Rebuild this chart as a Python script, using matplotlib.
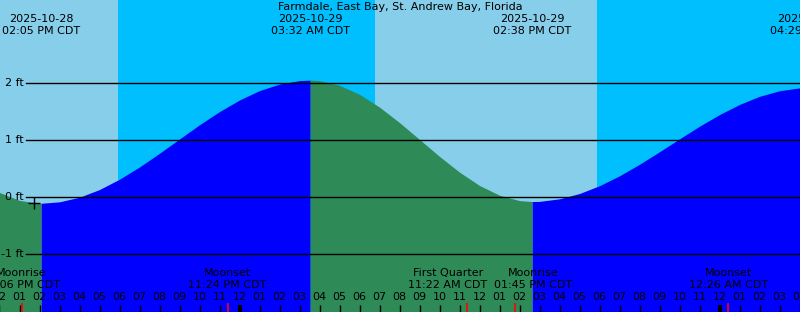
import matplotlib
matplotlib.use('Agg')
import matplotlib.pyplot as plt
import matplotlib.transforms as mtransforms
from datetime import datetime

title = 'Farmdale, East Bay, St. Andrew Bay, Florida'
start = datetime(2025, 10, 28, 12, 0)

# tide extremes (low / high)
tide_times = ['2025-10-28 02:05 PM', '2025-10-29 03:32 AM', '2025-10-29 02:38 PM', '2025-10-30 04:29 AM']
tide_heights = [-0.11, 2.05, -0.08, 1.92]

# water level read every hour from 12 PM on 2025-10-28
hourly_heights = [0.08, -0.06, -0.11, -0.085, -0.004, 0.131, 0.312, 0.527, 0.767, 1.018,
                  1.267, 1.499, 1.702, 1.867, 1.981, 2.042, 2.041, 1.960, 1.801, 1.577,
                  1.306, 1.010, 0.712, 0.436, 0.202, 0.031, -0.063, -0.077, -0.032, 0.061,
                  0.198, 0.372, 0.574, 0.794, 1.020, 1.242, 1.446, 1.624, 1.766, 1.864, 1.914]

# moon events
moon_names = ['Moonrise', 'Moonset', 'First Quarter', 'Moonrise', 'Moonset']
moon_times = ['2025-10-28 01:06 PM', '2025-10-28 11:24 PM', '2025-10-29 11:22 AM',
              '2025-10-29 01:45 PM', '2025-10-30 12:26 AM']
moon_label_shift = [0, 0, -0.95, 0.95, 0]

# night spans
night_spans = [('2025-10-28 05:54 PM', '2025-10-29 06:47 AM'),
               ('2025-10-29 05:53 PM', '2025-10-30 06:48 AM')]

marker_time = '2025-10-28 01:43 PM'
marker_height = -0.105

FS = 8


def hours(s):
    d = datetime.strptime(s, '%Y-%m-%d %I:%M %p')
    return (d - start).total_seconds() / 3600.0


def time_label(s):
    d = datetime.strptime(s, '%Y-%m-%d %I:%M %p')
    return d.strftime('%I:%M %p') + ' CDT'


W, H = 800, 312
x0 = 0.025
x1 = x0 + W / 20.0
ylo = (197 - H) / 57.0
yhi = 197 / 57.0

fig = plt.figure(figsize=(8, 3.12), dpi=100)
ax = fig.add_axes([0, 0, 1, 1])
ax.set_xlim(x0, x1)
ax.set_ylim(ylo, yhi)
ax.axis('off')
ax.axvspan(x0, x1, color='#87CEEB', lw=0, zorder=0)
for a, b in night_spans:
    ax.axvspan(hours(a), hours(b), color='#00BFFF', lw=0, zorder=0.5)

# curve points
tt = [hours(s) for s in tide_times]
pts = [(float(i), h) for i, h in enumerate(hourly_heights)] + list(zip(tt, tide_heights))
pts.sort()

n = len(tt)
bounds = [x0 - 1] + tt + [x1 + 1]
for k in range(n + 1):
    a, b = bounds[k], bounds[k + 1]
    seg = [p for p in pts if a <= p[0] <= b]
    if not seg:
        continue
    if k < n:
        rising = tide_heights[k] > tide_heights[k - 1] if k > 0 else tide_heights[0] > tide_heights[1]
    else:
        rising = tide_heights[n - 1] < tide_heights[n - 2]
    col = '#0000FF' if rising else '#2E8B57'
    ax.fill_between([p[0] for p in seg], [p[1] for p in seg], ylo, color=col, lw=0, zorder=1)

# level lines
for lv in [2, 1, 0, -1]:
    ax.axhline(lv, xmin=26 / W, xmax=1, color='black', lw=1, zorder=2)
    ax.text(x0 + 24 / 20.0, lv, '%d ft' % lv, ha='right', va='center', fontsize=FS, zorder=3)

ax.plot(hours(marker_time), marker_height, marker='+', color='black', ms=9, mew=1, zorder=3)

tr = mtransforms.blended_transform_factory(ax.transData, ax.transAxes)


def ypix(p):
    return 1 - p / H


fig.text(0.5, ypix(7), title, ha='center', va='center', fontsize=FS)
for s, t in zip(tide_times, tt):
    ax.text(t, ypix(19), s[:10], ha='center', va='center', fontsize=FS, transform=tr)
    ax.text(t, ypix(31), time_label(s), ha='center', va='center', fontsize=FS, transform=tr)

for name, s, dx in zip(moon_names, moon_times, moon_label_shift):
    t = hours(s)
    ax.text(t + dx, ypix(273), name, ha='center', va='center', fontsize=FS, transform=tr)
    ax.text(t + dx, ypix(285), time_label(s), ha='center', va='center', fontsize=FS, transform=tr)
    ax.vlines(t, 0, ypix(303), color='red', lw=1.2, transform=tr, zorder=4)

for i in range(len(hourly_heights)):
    d = (i + 12) % 12
    lab = '%02d' % (12 if d == 0 else d)
    ax.text(i, ypix(297), lab, ha='center', va='center', fontsize=FS, transform=tr, clip_on=False)
    lw = 3 if (i + 12) % 24 == 0 else 1
    ax.vlines(i, 0, ypix(305), color='black', lw=lw, transform=tr, zorder=3)

fig.savefig('out.png', dpi=100)
